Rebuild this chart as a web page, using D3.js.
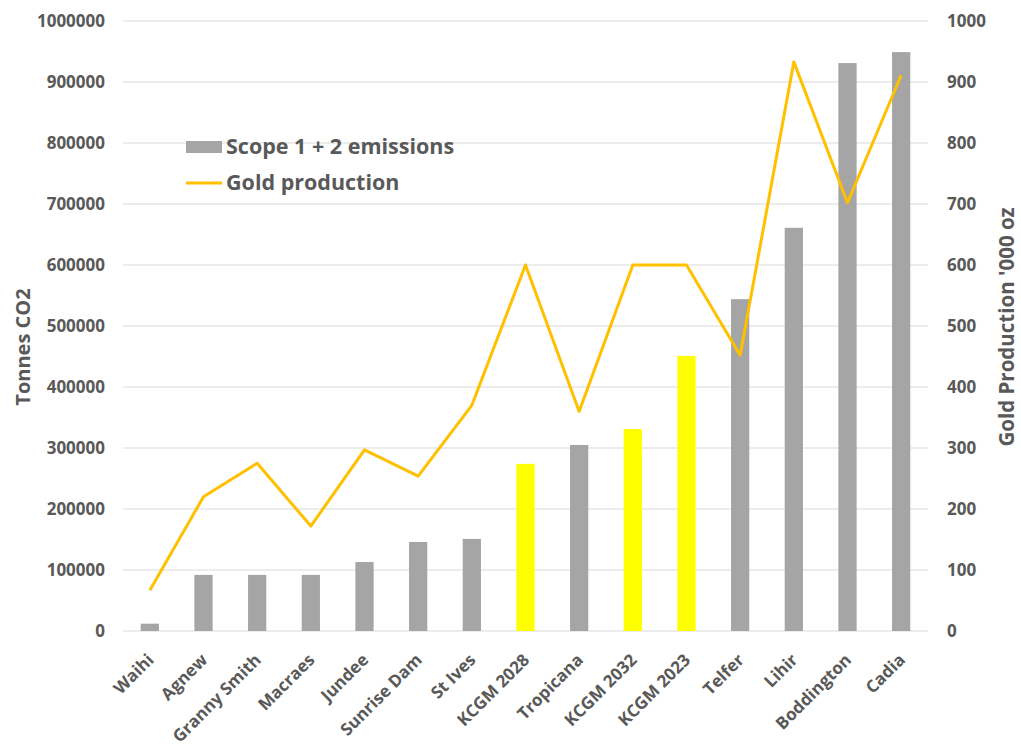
<!DOCTYPE html>
<html>
<head>
<meta charset="utf-8">
<script src="https://cdn.jsdelivr.net/npm/d3@7"></script>
<style>
  body { margin: 0; background: #fff; }
  text { font-family: "Open Sans", "DejaVu Sans", sans-serif; font-weight: bold; fill: #595959; }
</style>
</head>
<body>
<div id="chart"></div>
<script>
// Mine names along the x axis
const mines = ['Waihi', 'Agnew', 'Granny Smith', 'Macraes', 'Jundee', 'Sunrise Dam', 'St Ives',
    'KCGM 2028', 'Tropicana', 'KCGM 2032', 'KCGM 2023', 'Telfer', 'Lihir', 'Boddington', 'Cadia'];

// Scope 1 + 2 emissions, tonnes CO2 (left axis)
const emissions = [12000, 92000, 92000, 92000, 113000, 146000, 151000,
    274000, 305000, 331000, 451000, 544000, 661000, 931000, 949000];

// Gold production, '000 oz (right axis)
const gold = [67, 220, 275, 172, 297, 254, 370, 600, 360, 600, 600, 452, 933, 702, 911];

// KCGM scenarios are highlighted in yellow
const highlighted = ['KCGM 2028', 'KCGM 2032', 'KCGM 2023'];

const leftTicks = [0, 100000, 200000, 300000, 400000, 500000, 600000, 700000, 800000, 900000, 1000000];
const rightTicks = [0, 100, 200, 300, 400, 500, 600, 700, 800, 900, 1000];

const width = 1021, height = 749;
const margin = {top: 21, right: 93, bottom: 118, left: 123};

const svg = d3.select("#chart").append("svg")
    .attr("width", width)
    .attr("height", height);

const x = d3.scaleBand()
    .domain(mines)
    .range([margin.left, width - margin.right])
    .paddingInner(0.66)
    .paddingOuter(0.33);

const yLeft = d3.scaleLinear().domain([0, 1000000]).range([height - margin.bottom, margin.top]);
const yRight = d3.scaleLinear().domain([0, 1000]).range([height - margin.bottom, margin.top]);

// Gridlines
svg.append("g")
    .selectAll("line")
    .data(leftTicks)
    .enter().append("line")
    .attr("x1", margin.left)
    .attr("x2", width - margin.right)
    .attr("y1", d => yLeft(d))
    .attr("y2", d => yLeft(d))
    .style("stroke", "#d9d9d9")
    .style("stroke-width", 1);

// Left axis labels
const leftAxis = svg.append("g")
    .attr("transform", `translate(${margin.left},0)`)
    .call(d3.axisLeft(yLeft).tickValues(leftTicks).tickSize(0).tickPadding(18).tickFormat(d3.format("d")));
leftAxis.select(".domain").remove();
leftAxis.selectAll("text").style("font-size", "17px").style("fill", "#595959");

// Right axis labels
const rightAxis = svg.append("g")
    .attr("transform", `translate(${width - margin.right},0)`)
    .call(d3.axisRight(yRight).tickValues(rightTicks).tickSize(0).tickPadding(19).tickFormat(d3.format("d")));
rightAxis.select(".domain").remove();
rightAxis.selectAll("text").style("font-size", "17px").style("fill", "#595959");

// Bars
svg.append("g")
    .selectAll("rect")
    .data(mines)
    .enter().append("rect")
    .attr("x", d => x(d))
    .attr("width", x.bandwidth())
    .attr("y", (d, i) => yLeft(emissions[i]))
    .attr("height", (d, i) => yLeft(0) - yLeft(emissions[i]))
    .style("fill", d => highlighted.includes(d) ? "#FFFF00" : "#A5A5A5");

// Gold production line
const line = d3.line()
    .x((d, i) => x(mines[i]) + x.bandwidth() / 2)
    .y(d => yRight(d));

svg.append("path")
    .datum(gold)
    .attr("d", line)
    .style("fill", "none")
    .style("stroke", "#FFC000")
    .style("stroke-width", 3)
    .style("stroke-linejoin", "round");

// X axis labels (rotated)
svg.append("g")
    .selectAll("text")
    .data(mines)
    .enter().append("text")
    .attr("text-anchor", "end")
    .attr("transform", d => `translate(${x(d) + x.bandwidth() / 2 + 5},${height - margin.bottom + 30}) rotate(-45)`)
    .style("font-size", "17px")
    .text(d => d);

// Axis titles
svg.append("text")
    .attr("text-anchor", "middle")
    .attr("transform", "translate(30,347) rotate(-90)")
    .style("font-size", "20px")
    .text("Tonnes CO2");

svg.append("text")
    .attr("text-anchor", "middle")
    .attr("transform", "translate(1014,327) rotate(-90)")
    .style("font-size", "20.5px")
    .text("Gold Production '000 oz");

// Legend
const legend = svg.append("g").attr("transform", "translate(186,0)");
legend.append("rect")
    .attr("x", 0).attr("y", 141)
    .attr("width", 36).attr("height", 12)
    .style("fill", "#A5A5A5");
legend.append("text")
    .attr("x", 40).attr("y", 154)
    .style("font-size", "21.5px")
    .text("Scope 1 + 2 emissions");
legend.append("line")
    .attr("x1", 0).attr("x2", 36)
    .attr("y1", 183).attr("y2", 183)
    .style("stroke", "#FFC000")
    .style("stroke-width", 3);
legend.append("text")
    .attr("x", 40).attr("y", 190)
    .style("font-size", "21.5px")
    .text("Gold production");
</script>
</body>
</html>
